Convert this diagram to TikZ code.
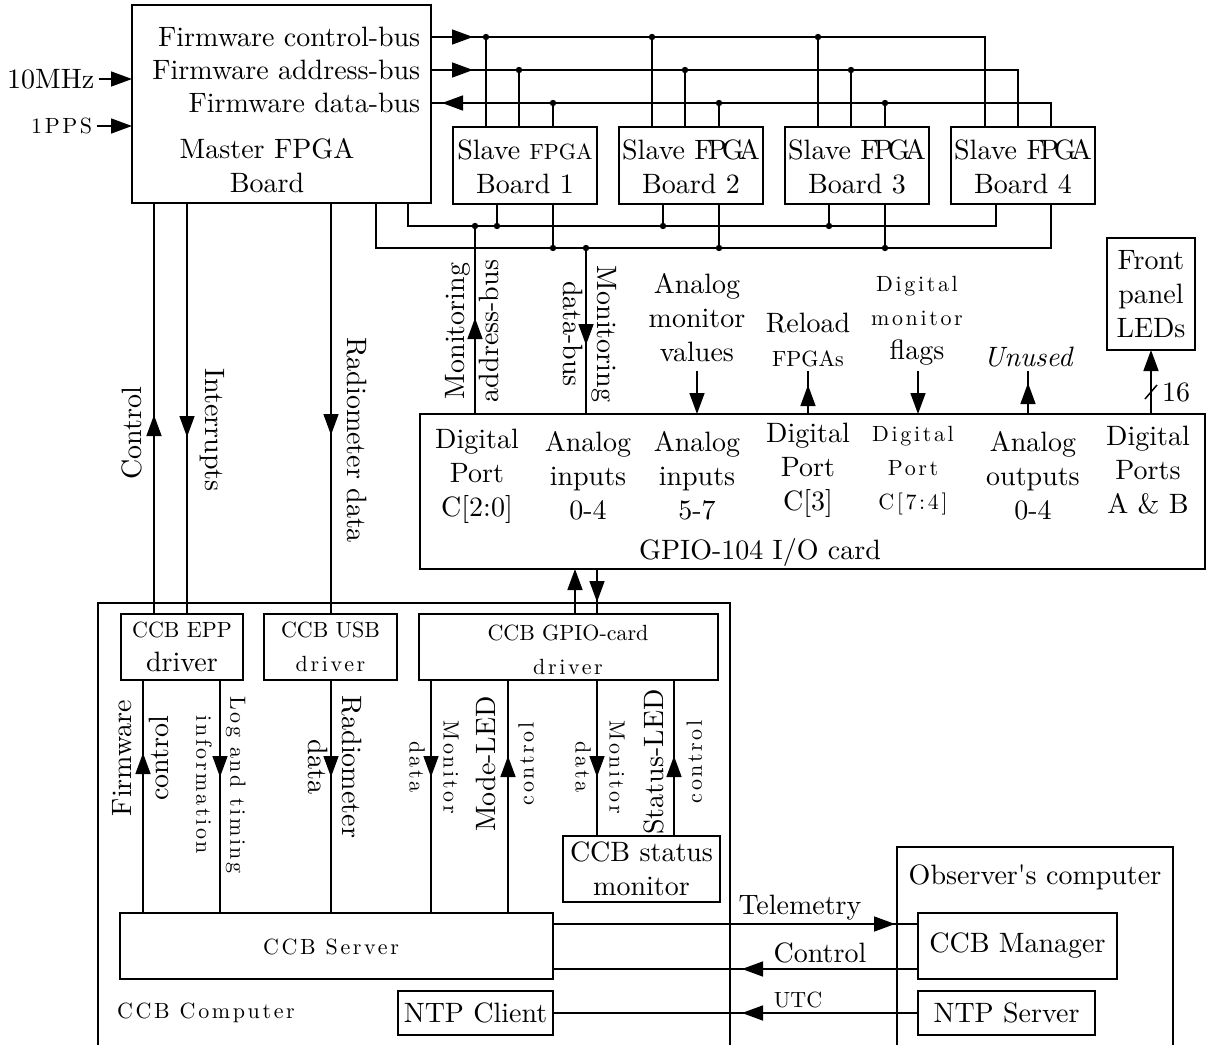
\documentclass[tikz,border=0pt]{standalone}
\usepackage{fontspec}
\setmainfont{lmroman10-regular.otf}[ItalicFont=lmroman10-italic.otf, BoldFont=lmroman10-bold.otf, BoldItalicFont=lmroman10-bolditalic.otf]
\usetikzlibrary{arrows.meta,decorations.markings}
\newcommand\mainsz{\fontsize{14}{17}\selectfont}
\newcommand\smsp{\fontsize{11}{17}\selectfont\addfontfeature{LetterSpace=12}}
\newcommand\smf{\fontsize{11}{17}\selectfont}
\newcommand\mkbox[5]{\node[bx, minimum width={(#4-#2)*0.5pt}, minimum height={(#5-#3)*0.5pt}] (#1) at (#2,#3) {};}
\tikzset{
  Tri/.tip={Triangle[length=10.5pt,width=7.5pt]},
  arr/.style={-{Tri}},
  marr/.style={postaction={decorate},decoration={markings,mark=at position #1 with {\arrow{Tri}}}},
  bx/.style={draw, inner sep=0pt, outer sep=0pt, anchor=north west},
  tx/.style={inner sep=0pt, align=center, font=\mainsz},
  stx/.style={inner sep=0pt, align=center, font=\smsp},
  wide/.style={font=\fontsize{14}{#1}\selectfont},
}
\begin{document}
\begin{tikzpicture}[x=0.5pt,y=-0.5pt,line width=0.75pt]
\useasboundingbox (0,0) rectangle (1207,1045);
\clip (0,0) rectangle (1207,1045);
% outer computer boxes
\mkbox{ccbc}{98}{603}{730}{1080}
\mkbox{obs}{897}{847}{1173}{1080}
% master
\mkbox{master}{132}{5}{431}{203}
\node[tx, anchor=east] (fcb) at (421,37) {Firmware control-bus};
\node[tx, anchor=east] (fab) at (421,70) {Firmware address-bus};
\node[tx, anchor=east] (fdb) at (421,103) {Firmware data-bus};
\node[tx] (mft) at (267,166) {Master FPGA\\Board};
\node[tx, anchor=east] (t10) at (95,79) {10MHz};
\node[stx, anchor=east] (tpps) at (93,126) {1PPS};
\draw[arr, shorten <=2pt] (t10.east) -- (master.west |- t10.east);
\draw[arr, shorten <=2pt] (tpps.east) -- (master.west |- tpps.east);
% slaves
\foreach \k in {1,...,4}{
  \pgfmathsetmacro\L{453+166*(\k-1)}
  \mkbox{slave\k}{\L}{127}{\L+144}{204}
}
\node[tx] (st1) at (525,167) {Slave {\smf FPGA}\\Board 1};
\node[tx] (st2) at (691,167) {Slave F\kern-2.5pt P\kern-2.5pt G\kern-2.5pt A\\Board 2};
\node[tx] (st3) at (857,167) {Slave F\kern-2.5pt P\kern-2.5pt G\kern-2.5pt A\\Board 3};
\node[tx] (st4) at (1023,167) {Slave F\kern-2.5pt P\kern-2.5pt G\kern-2.5pt A\\Board 4};
% firmware buses
\draw[marr=21pt] (master.east |- 0,37) -- (985,37) -- (slave4.north -| 985,0);
\draw[marr=21pt] (master.east |- 0,70) -- (1018,70) -- (slave4.north -| 1018,0);
\draw[marr=316.5pt] (slave4.north -| 1051,0) -- (1051,103) -- (master.east |- 0,103);
\foreach \k in {1,2,3}{
  \pgfmathsetmacro\L{453+166*(\k-1)}
  \coordinate (ca\k) at (\L+33,37);
  \coordinate (cb\k) at (\L+66,70);
  \coordinate (cc\k) at (\L+100,103);
  \fill (ca\k) circle (1.6pt); \fill (cb\k) circle (1.6pt); \fill (cc\k) circle (1.6pt);
  \draw (ca\k) -- (slave\k.north -| ca\k);
  \draw (cb\k) -- (slave\k.north -| cb\k);
  \draw (cc\k) -- (slave\k.north -| cc\k);
  \coordinate (cd\k) at (\L+44,226);
  \coordinate (ce\k) at (\L+100,248);
  \fill (cd\k) circle (1.6pt); \fill (ce\k) circle (1.6pt);
  \draw (cd\k) -- (slave\k.south -| cd\k);
  \draw (ce\k) -- (slave\k.south -| ce\k);
}
% monitoring buses
\draw (master.south -| 408,0) -- (408,226) -- (996,226) -- (slave4.south -| 996,0);
\draw (master.south -| 376,0) -- (376,248) -- (1051,248) -- (slave4.south -| 1051,0);
% GPIO card
\mkbox{gpio}{420}{414}{1205}{569}
\coordinate (mab) at (475,226);
\coordinate (mdb) at (586,248);
\fill (mab) circle (1.6pt); \fill (mdb) circle (1.6pt);
\draw[marr=48pt] (gpio.north -| mab) -- (mab);
\draw[marr=48.5pt] (mdb) -- (gpio.north -| mdb);
\node[tx, rotate=90] (lmab) at (472,331) {Monitoring\\address-bus};
\node[tx, rotate=-90] (lmdb) at (590,334) {Monitoring\\data-bus};
\node[tx] (g1) at (477,476) {Digital\\Port\\C[2:0]};
\node[tx] (g2) at (588,476) {Analog\\inputs\\0-4};
\node[tx] (g3) at (697,476) {Analog\\inputs\\5-7};
\node[tx] (g4) at (808,470) {Digital\\Port\\C[3]};
\node[stx] (g5) at (913,471) {Digital\\Port\\C[7:4]};
\node[tx] (g6) at (1033,476) {Analog\\outputs\\0-4};
\node[tx] (g7) at (1148,470) {Digital\\Ports\\A \& B};
\node[tx] (g8) at (760,552) {GPIO-104 I/O card};
% labels above GPIO
\node[tx] (lamv) at (697,318) {Analog\\monitor\\values};
\node[tx] (lrl) at (808,340) {Reload\\{\smf FPGAs}};
\node[tx] (ldmf) at (917,321) {{\smsp Digital}\\{\smsp monitor}\\flags};
\node[tx, font=\mainsz\itshape] (lun) at (1028,357) {Unused};
\coordinate (camv) at (697,371);
\coordinate (crl) at (808,371);
\coordinate (cdmf) at (918,371);
\coordinate (cun) at (1028,371);
\draw[arr] (camv) -- (gpio.north -| camv);
\draw[marr=14.5pt] (gpio.north -| crl) -- (crl);
\draw[arr] (cdmf) -- (gpio.north -| cdmf);
\draw[marr=15.5pt] (gpio.north -| cun) -- (cun);
\mkbox{fp}{1107}{238}{1195}{350}
\node[tx] (fpt) at (fp.center) {Front\\panel\\LEDs};
\draw[arr] (gpio.north -| fp.south) -- (fp.south);
\draw (1145,399) -- (1157,385);
\node[tx] (l16) at (1176,392) {16};
% master to drivers
\mkbox{epp}{121}{614}{243}{680}
\mkbox{usb}{264}{614}{397}{680}
\mkbox{gdrv}{419}{614}{718}{680}
\node[tx] (eppt) at (epp.center) {{\smf CCB EPP}\\driver};
\node[tx] (usbt) at (usb.center) {{\smf CCB USB}\\{\smsp driver}};
\node[tx] (gdrvt) at (568,650) {{\smf CCB GPIO-card}\\{\smsp driver}};
\draw[marr=99.5pt] (epp.north -| 154,0) -- (master.south -| 154,0);
\draw[marr=117pt] (master.south -| 187,0) -- (epp.north -| 187,0);
\draw[marr=116pt] (master.south -| 331,0) -- (usb.north -| 331,0);
\node[tx, rotate=90] (lctl) at (132,433) {Control};
\node[tx, rotate=-90] (lint) at (212,430) {Interrupts};
\node[tx, rotate=-90] (lrad) at (357,440) {Radiometer data};
\draw[arr] (gdrv.north -| 575,0) -- (gpio.south -| 575,0);
\draw[marr=16.5pt] (gpio.south -| 597,0) -- (gdrv.north -| 597,0);
% status monitor and server
\mkbox{stm}{563}{836}{720}{902}
\node[tx] (stmt) at (stm.center) {CCB status\\monitor};
\mkbox{srv}{120}{913}{553}{979}
\node[stx] (srvt) at (331,947) {CCB Server};
\node[stx] (ccbt) at (206,1013) {CCB Computer};
\draw[marr=80pt] (srv.north -| 143,0) -- (epp.south -| 143,0);
\draw[marr=48.5pt] (epp.south -| 220,0) -- (srv.north -| 220,0);
\draw[marr=48.5pt] (usb.south -| 331,0) -- (srv.north -| 331,0);
\draw[marr=48.5pt] (gdrv.south -| 431,0) -- (srv.north -| 431,0);
\draw[marr=78.5pt] (srv.north -| 508,0) -- (gdrv.south -| 508,0);
\draw[marr=48.5pt] (gdrv.south -| 597,0) -- (stm.north -| 597,0);
\draw[marr=40pt] (stm.north -| 674,0) -- (gdrv.south -| 674,0);
\node[tx, wide=18.5, rotate=90] (lfc) at (141,758) {Firmware\\control};
\node[stx, rotate=-90] (llog) at (221,785) {Log and timing\\information};
\node[tx, rotate=-90] (lrd2) at (335,767) {Radiometer\\data};
\node[stx, rotate=-90] (lmd1) at (434,767) {Monitor\\data};
\node[tx, wide=19, rotate=90] (lml) at (505,764) {Mode-LED\\{\smsp control}};
\node[stx, rotate=-90] (lmd2) at (600,767) {Monitor\\data};
\node[tx, wide=19, rotate=90] (lsl) at (673,762) {Status-LED\\{\smsp control}};
% observer side
\node[tx] (obst) at (1035,877) {Observer\textquotesingle s computer};
\mkbox{mgr}{918}{913}{1117}{979}
\node[tx] (mgrt) at (mgr.center) {CCB Manager};
\mkbox{ntps}{918}{991}{1095}{1035}
\node[tx] (ntpst) at (ntps.center) {NTP Server};
\mkbox{ntpc}{398}{991}{553}{1035}
\node[tx] (ntpct) at (ntpc.center) {NTP Client};
\draw[marr=171pt] (srv.east |- 0,924) -- (mgr.west |- 0,924);
\draw[marr=88pt] (mgr.west |- 0,969) -- (srv.east |- 0,969);
\draw[marr=88pt] (ntps.west) -- (ntpc.east);
\node[tx] (ltel) at (800,908) {Telemetry};
\node[tx] (lcon) at (820,953) {Control};
\node[tx, font=\smf] (lutc) at (798,1000) {UTC};
\end{tikzpicture}
\end{document}
